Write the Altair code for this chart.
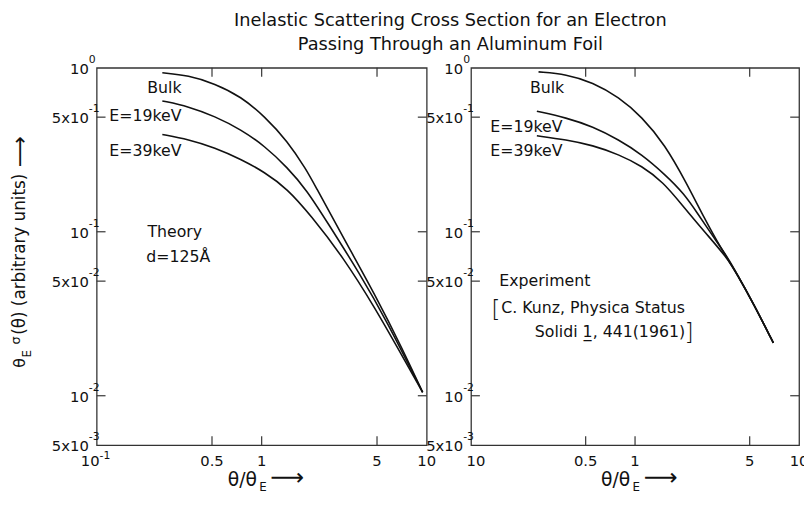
import altair as alt
import pandas as pd

FONT = "DejaVu Sans"
INK = "#111111"
FRAME = "#333333"

# ---------------- data ----------------
# Theory panel (d = 125 Å)
th_bulk_x = [0.25, 0.36, 0.52, 0.75, 1.04, 1.43, 1.88, 2.05, 3.13, 4.95, 7.15, 9.45]
th_bulk_y = [0.933, 0.899, 0.801, 0.667, 0.506, 0.358, 0.236, 0.201, 0.0918, 0.040, 0.0192, 0.0105]
th_19_x = [0.25, 0.36, 0.52, 0.75, 1.04, 1.43, 1.88, 2.48, 3.94, 5.68, 9.45]
th_19_y = [0.628, 0.581, 0.506, 0.420, 0.334, 0.247, 0.179, 0.1156, 0.0553, 0.029, 0.0105]
th_39_x = [0.25, 0.36, 0.52, 0.75, 1.04, 1.43, 1.97, 3.13, 4.95, 6.82, 9.45]
th_39_y = [0.392, 0.366, 0.326, 0.277, 0.231, 0.183, 0.127, 0.0697, 0.0333, 0.0188, 0.0105]

# Experiment panel (C. Kunz)
ex_bulk_x = [0.258, 0.381, 0.552, 0.796, 1.10, 1.52, 2.05, 2.65, 3.33, 4.19, 5.28, 6.97]
ex_bulk_y = [0.944, 0.914, 0.815, 0.663, 0.503, 0.340, 0.200, 0.1205, 0.0796, 0.0551, 0.0364, 0.0210]
ex_19_x = [0.252, 0.381, 0.552, 0.796, 1.10, 1.52, 2.00, 2.41, 3.04, 3.74, 4.19, 5.28, 6.97]
ex_19_y = [0.543, 0.496, 0.438, 0.364, 0.296, 0.224, 0.170, 0.129, 0.0914, 0.0678, 0.0551, 0.0364, 0.0210]
ex_39_x = [0.252, 0.381, 0.552, 0.796, 1.10, 1.49, 1.91, 2.65, 3.65, 4.19, 5.28, 6.97]
ex_39_y = [0.385, 0.364, 0.337, 0.296, 0.252, 0.200, 0.148, 0.100, 0.0693, 0.0551, 0.0364, 0.0210]

series_names = ["Bulk", "E=19keV", "E=39keV"]

# axis ticks / labels
y_label_vals = [1, 0.5, 0.1, 0.05, 0.01, 0.005]
y_label_base = ["10", "5x10", "10", "5x10", "10", "5x10"]
y_label_exp = ["0", "-1", "-1", "-2", "-2", "-3"]
y_tick_vals = [0.5, 0.1, 0.05, 0.01]
x_tick_vals = [0.5, 1, 5]
x_label_vals = [0.5, 1, 5, 10]
x_label_text = ["0.5", "1", "5", "10"]

title_lines = ["Inelastic Scattering Cross Section for an Electron",
               "Passing Through an Aluminum Foil"]

# annotation anchors (data coordinates)
th_lab_x = [0.327, 0.327, 0.327]
th_lab_y = [0.753, 0.505, 0.311]
th_note_text = ["Theory", "d=125\u00c5"]
th_note_x = [0.203, 0.200]
th_note_y = [0.0989, 0.0705]

ex_lab_x = [0.2286, 0.131, 0.131]
ex_lab_y = [0.753, 0.4335, 0.311]
ex_note_text = ["Experiment", "C. Kunz, Physica Status", "Solidi 1\u0332, 441(1961)"]
ex_note_x = [0.1488, 0.1529, 0.245]
ex_note_y = [0.0503, 0.0341, 0.0245]
bracket_text = ["[", "]"]
bracket_x = [0.133, 2.0]
bracket_y = [0.0332, 0.0242]

W_L, W_R, H = 335, 333, 383


def xenc(field):
    return alt.X(field, type="quantitative",
                 scale=alt.Scale(type="log", domain=[0.1, 10]), axis=None)


def yenc(field):
    return alt.Y(field, type="quantitative",
                 scale=alt.Scale(type="log", domain=[0.005, 1]), axis=None)


def curves(triples):
    rows = []
    for name, xs, ys in triples:
        for i, (a, b) in enumerate(zip(xs, ys)):
            rows.append({"series": name, "x": a, "y": b, "o": i})
    df = pd.DataFrame(rows)
    return alt.Chart(df).mark_line(color=INK, strokeWidth=1.6, interpolate="basis").encode(
        x=xenc("x"), y=yenc("y"), detail="series:N", order="o:Q")


def ticks(W):
    xt = pd.DataFrame({"v": x_tick_vals})
    yt = pd.DataFrame({"v": y_tick_vals})
    L = 9
    r = dict(color=FRAME, strokeWidth=1.2)
    return [
        alt.Chart(xt).mark_rule(**r).encode(x=xenc("v"), y=alt.value(H), y2=alt.value(H - L)),
        alt.Chart(xt).mark_rule(**r).encode(x=xenc("v"), y=alt.value(0), y2=alt.value(L)),
        alt.Chart(yt).mark_rule(**r).encode(y=yenc("v"), x=alt.value(0), x2=alt.value(L)),
        alt.Chart(yt).mark_rule(**r).encode(y=yenc("v"), x=alt.value(W), x2=alt.value(W - L)),
    ]


def ylabels():
    df = pd.DataFrame({"v": y_label_vals, "b": y_label_base, "e": y_label_exp})
    base = alt.Chart(df).mark_text(align="right", baseline="middle", fontSize=15, dy=1).encode(
        y=yenc("v"), x=alt.value(-8), text="b:N")
    ex = alt.Chart(df).mark_text(align="left", baseline="middle", fontSize=11, dy=-8).encode(
        y=yenc("v"), x=alt.value(-8), text="e:N")
    return [base, ex]


def xlabels():
    df = pd.DataFrame({"v": x_label_vals, "t": x_label_text})
    return alt.Chart(df).mark_text(align="center", baseline="middle", fontSize=15).encode(
        x=xenc("v"), y=alt.value(H + 16), text="t:N")


def dtext(xs, ys, texts, size, **kw):
    df = pd.DataFrame({"x": xs, "y": ys, "t": texts})
    return alt.Chart(df).mark_text(fontSize=size, baseline="middle", **kw).encode(
        x=xenc("x"), y=yenc("y"), text="t:N")


def ptext(s, x, y, size, **kw):
    df = pd.DataFrame({"t": [s]})
    return alt.Chart(df).mark_text(fontSize=size, baseline="middle", **kw).encode(
        x=alt.value(x), y=alt.value(y), text="t:N")


def xtitle(x0):
    return [
        ptext("\u03b8/\u03b8", x0, H + 36, 19, align="left"),
        ptext("E", x0 + 32, H + 43, 12, align="left"),
        ptext("\u27f6", x0 + 43, H + 34, 24, align="left"),
    ]


# ---------------- left panel ----------------
left_layers = [curves([(series_names[0], th_bulk_x, th_bulk_y),
                       (series_names[1], th_19_x, th_19_y),
                       (series_names[2], th_39_x, th_39_y)])]
left_layers += ticks(W_L)
left_layers += ylabels()
left_layers.append(xlabels())
# 10^-1 label at x = 0.1
left_layers.append(alt.Chart(pd.DataFrame({"v": [0.1], "t": ["10"]})).mark_text(
    align="right", baseline="middle", fontSize=15, dx=3).encode(x=xenc("v"), y=alt.value(H + 16), text="t:N"))
left_layers.append(alt.Chart(pd.DataFrame({"v": [0.1], "t": ["-1"]})).mark_text(
    align="left", baseline="middle", fontSize=11, dx=3, dy=-5).encode(x=xenc("v"), y=alt.value(H + 16), text="t:N"))
left_layers.append(dtext(th_lab_x, th_lab_y, series_names, 16, align="right"))
left_layers.append(dtext(th_note_x, th_note_y, th_note_text, 16, align="left"))
# y-axis title (rotated pieces)
left_layers += [
    ptext("\u03b8", -78, 304.5, 16, align="left", angle=270),
    ptext("E", -71, 294, 12, align="left", angle=270),
    ptext("\u03c3", -82, 281, 13, align="left", angle=270),
    ptext("(\u03b8) (arbitrary units)", -78, 271, 17, align="left", angle=270),
    ptext("\u27f6", -78, 101, 22, align="left", angle=270),
]
left_layers += xtitle(133)
# main title
left_layers.append(ptext(title_lines[0], 359, -47, 18, align="center"))
left_layers.append(ptext(title_lines[1], 359, -23, 18, align="center"))

left = alt.layer(*left_layers).properties(width=W_L, height=H)

# ---------------- right panel ----------------
right_layers = [curves([(series_names[0], ex_bulk_x, ex_bulk_y),
                        (series_names[1], ex_19_x, ex_19_y),
                        (series_names[2], ex_39_x, ex_39_y)])]
right_layers += ticks(W_R)
right_layers += ylabels()
right_layers.append(xlabels())
right_layers.append(alt.Chart(pd.DataFrame({"v": [0.1], "t": ["10"]})).mark_text(
    align="center", baseline="middle", fontSize=15, dx=5).encode(x=xenc("v"), y=alt.value(H + 16), text="t:N"))
right_layers.append(dtext(ex_lab_x, ex_lab_y, series_names, 16, align="left"))
right_layers.append(dtext(ex_note_x, ex_note_y, ex_note_text, 16, align="left"))
right_layers.append(dtext(bracket_x, bracket_y, bracket_text, 24, align="left", fontWeight=300))
right_layers += xtitle(132)

right = alt.layer(*right_layers).properties(width=W_R, height=H)

chart = alt.hconcat(left, right, spacing=45, bounds="flush").properties(
    padding={"left": 0, "top": 0, "right": -6, "bottom": 0},
    background="white",
).configure_view(stroke=FRAME, strokeWidth=1.3).configure_text(font=FONT, color=INK)

chart.save("out.html", embed_options={"renderer": "svg", "actions": False})
